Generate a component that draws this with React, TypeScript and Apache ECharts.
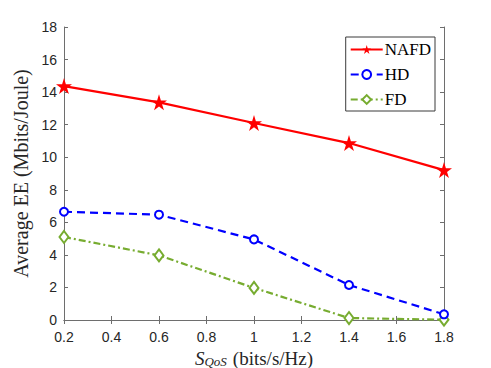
import React, { useEffect, useRef } from "react";
import * as echarts from "echarts";

const xValues = [0.2, 0.6, 1.0, 1.4, 1.8];
const nafd = [14.37, 13.37, 12.1, 10.87, 9.21];
const hd = [6.65, 6.47, 4.95, 2.15, 0.35];
const fd = [5.1, 3.97, 1.97, 0.12, 0.02];
const seriesNames = ["NAFD", "HD", "FD"];

const STAR =
  "path://M100,0 L122.45,69.1 L195.1,69.1 L136.3,111.8 L158.8,180.9 L100,138.2 L41.2,180.9 L63.7,111.8 L4.9,69.1 L77.55,69.1 Z";

const axisColor = "#6e6e6e";
const labelColor = "#262626";
const serif = "'Liberation Serif', 'DejaVu Serif', serif";
const sans = "'Liberation Sans', Arial, sans-serif";

function pairs(ys: number[]) {
  return xValues.map((x, i) => [x, ys[i]]);
}

export default function App() {
  const ref = useRef<HTMLDivElement>(null);
  useEffect(() => {
    if (!ref.current) return;
    const chart = echarts.init(ref.current, null, { renderer: "svg" });
    const boxAxis = {
      axisLine: { show: true, lineStyle: { color: axisColor, width: 1 } },
      axisTick: { show: true, inside: true, length: 4, lineStyle: { color: axisColor } },
      splitLine: { show: false },
    };
    chart.setOption({
      animation: false,
      backgroundColor: "#ffffff",
      grid: {
        left: 64,
        top: 27,
        width: 380,
        height: 293,
        containLabel: false,
        outerBoundsMode: "none",
      },
      legend: {
        data: seriesNames,
        orient: "vertical",
        right: 56,
        top: 37,
        itemWidth: 32,
        itemHeight: 11,
        itemGap: 8,
        padding: [4, 4, 3, 4],
        borderColor: "#3a3a3a",
        borderWidth: 1,
        backgroundColor: "#ffffff",
        textStyle: { fontFamily: serif, fontSize: 17, color: "#000", padding: [0, 0, 0, -3] },
      },
      xAxis: [
        {
          type: "value",
          min: 0.2,
          max: 1.8,
          interval: 0.2,
          ...boxAxis,
          axisLabel: { color: labelColor, fontFamily: sans, fontSize: 14, margin: 10 },
          name: "{i|S}{sub|QoS}  {t|(bits/s/Hz)}",
          nameLocation: "middle",
          nameGap: 26,
          nameTextStyle: {
            fontFamily: serif,
            color: labelColor,
            rich: {
              i: { fontFamily: serif, fontStyle: "italic", fontSize: 19, color: labelColor },
              sub: {
                fontFamily: serif,
                fontStyle: "italic",
                fontSize: 13,
                color: labelColor,
                padding: [6, 0, 0, 0],
              },
              t: { fontFamily: serif, fontSize: 19, color: labelColor },
            },
          },
        },
        {
          type: "value",
          position: "top",
          min: 0.2,
          max: 1.8,
          interval: 0.2,
          ...boxAxis,
          axisLabel: { show: false },
        },
      ],
      yAxis: [
        {
          type: "value",
          min: 0,
          max: 18,
          interval: 2,
          ...boxAxis,
          axisLabel: { color: labelColor, fontFamily: sans, fontSize: 14, margin: 7 },
          name: "Average EE (Mbits/Joule)",
          nameLocation: "middle",
          nameGap: 29,
          nameTextStyle: { fontFamily: serif, fontSize: 20, color: labelColor },
        },
        {
          type: "value",
          position: "right",
          min: 0,
          max: 18,
          interval: 2,
          ...boxAxis,
          axisLabel: { show: false },
        },
      ],
      series: [
        {
          name: seriesNames[0],
          type: "line",
          data: pairs(nafd),
          symbol: STAR,
          symbolSize: 16,
          lineStyle: { color: "#ff0000", width: 2.2, type: "solid" },
          itemStyle: { color: "#ff0000" },
          z: 3,
        },
        {
          name: seriesNames[1],
          type: "line",
          data: pairs(hd),
          symbol: "emptyCircle",
          symbolSize: 8,
          lineStyle: { color: "#0000ff", width: 2.2, type: [8, 5] },
          itemStyle: { color: "#0000ff", borderWidth: 2 },
          z: 2,
        },
        {
          name: seriesNames[2],
          type: "line",
          data: pairs(fd),
          symbol: "emptyDiamond",
          symbolSize: [9, 12],
          lineStyle: { color: "#77ac30", width: 2.2, type: [7, 3, 2, 3] },
          itemStyle: { color: "#77ac30", borderWidth: 2 },
          z: 1,
        },
      ],
    });
    return () => chart.dispose();
  }, []);
  return (
    <div
      ref={ref}
      style={{ position: "fixed", left: 0, top: 0, width: 491, height: 368, background: "#fff" }}
    />
  );
}
